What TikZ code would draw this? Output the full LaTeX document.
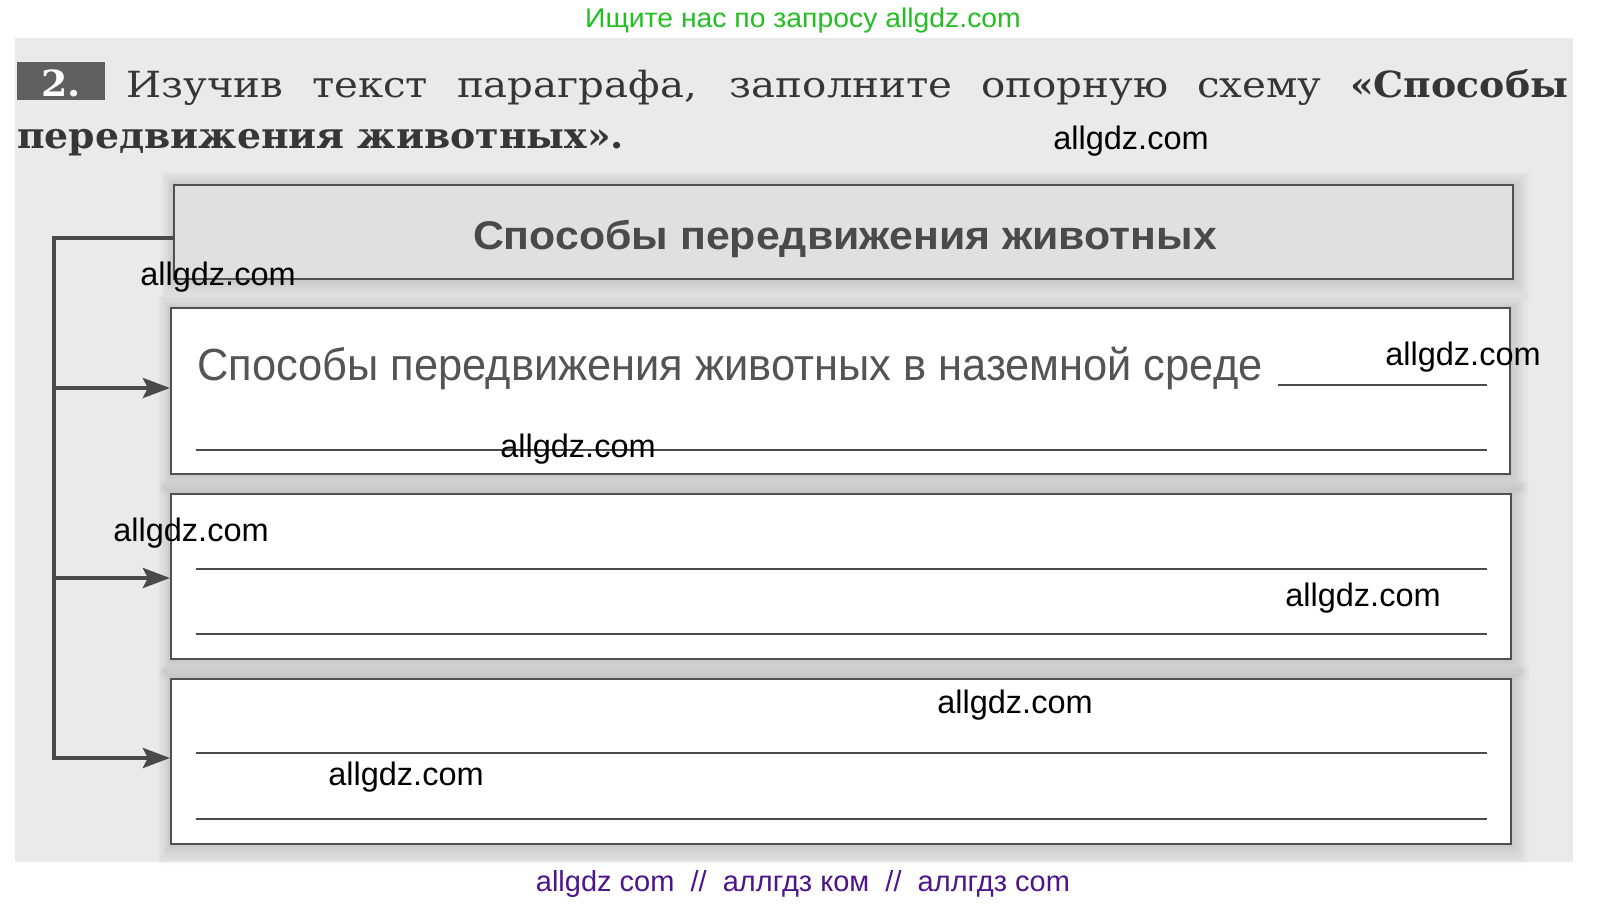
\documentclass[tikz,border=0pt]{standalone}
\usepackage{fontspec}
\setmainfont{DejaVu Serif}
\newfontfamily\treg[FakeStretch=1.12]{DejaVu Serif}
\newfontfamily\tbold[FakeStretch=1.05]{DejaVu Serif}
\newfontfamily\sansf{Liberation Sans}
\newfontfamily\headf[FakeStretch=1.07]{Liberation Sans}
\newfontfamily\boxf[FakeStretch=0.965]{Liberation Sans}
\newfontfamily\greenf[FakeStretch=1.05]{Liberation Sans}
\usetikzlibrary{arrows.meta,calc}
\definecolor{ink}{HTML}{363636}
\definecolor{boxline}{HTML}{505050}
\definecolor{scanbg}{HTML}{EAEAEA}
\definecolor{headfill}{HTML}{E0E0E0}
\definecolor{wmgreen}{RGB}{34,190,34}
\definecolor{wmpurple}{RGB}{78,22,138}
\begin{document}
\begin{tikzpicture}[x=1pt,y=-1pt,
  frame/.style={draw=boxline,line width=2.2pt,rectangle,inner sep=0pt,fill=white},
  headbox/.style={frame,fill=headfill},
  conn/.style={draw=ink!90,line width=4pt},
  arr/.style={conn,-{Stealth[length=27pt,width=20pt,inset=5pt]}},
  fillline/.style={draw=ink!90,line width=2pt},
  wm/.style={font=\sansf\fontsize{32.5}{34}\selectfont,text=black,anchor=base,inner sep=0pt},
  btext/.style={font=\boxf\fontsize{45}{48}\selectfont,text=ink!85,anchor=base west,inner sep=0pt}
]
\useasboundingbox (0,0) rectangle (1607,903);
\fill[white] (0,0) rectangle (1607,903);
\fill[scanbg] (15,38) rectangle (1573,862);

% soft shadows behind boxes
\foreach \xa/\ya/\xb/\yb in {174/185/1513/279,171/308/1510/474,171/494/1511/659,171/679/1511/844}{
  \foreach \k in {1,...,8}{
    \fill[black,opacity=0.014] (\xa-1.6*\k,\ya-1.6*\k) rectangle (\xb+2.2*\k,\yb+2.6*\k);
  }
}

% title
\fill[gray!75!black] (17,62) rectangle (105,100);
\node[anchor=base,inner sep=0pt,text=white,font=\tbold\bfseries\fontsize{36}{38}\selectfont] (num) at (61,96) {2.};
\node[anchor=base west,inner sep=0pt,text=ink,font=\treg\fontsize{36}{40}\selectfont] (t1) at (126,97)
  {\makebox[1442pt][s]{Изучив текст параграфа, заполните опорную схему {\tbold\bfseries «Способы}}};
\node[anchor=base west,inner sep=0pt,text=ink,font=\tbold\bfseries\fontsize{36}{40}\selectfont] (t2) at (17,148)
  {передвижения животных».};

% boxes
\node[headbox,minimum width=1339pt,minimum height=94pt] (h) at (843.5,232) {};
\node[frame,minimum width=1339pt,minimum height=166pt] (b2) at (840.5,391) {};
\node[frame,minimum width=1340pt,minimum height=165pt] (b3) at (841,576.5) {};
\node[frame,minimum width=1340pt,minimum height=165pt] (b4) at (841,761.5) {};

\node[anchor=base,inner sep=0pt,text=ink!90,font=\headf\bfseries\fontsize{40}{44}\selectfont] (ht) at (845,249)
  {Способы передвижения животных};
\node[btext] (b2t) at (197,380) {Способы передвижения животных в наземной среде};

% blank lines
\draw[fillline] (1278,385) -- (1487,385);
\draw[fillline] (196,450) -- (1487,450);
\draw[fillline] (196,569) -- (1487,569);
\draw[fillline] (196,634) -- (1487,634);
\draw[fillline] (196,753) -- (1487,753);
\draw[fillline] (196,819) -- (1487,819);

% connectors
\coordinate (s1) at (54,238);
\coordinate (s2) at (54,388);
\coordinate (s3) at (54,578);
\coordinate (s4) at (54,758);
\draw[conn,line cap=rect] (s1 -| h.west) -- (s1) -- (s4);
\draw[arr] (s2) -- (s2 -| b2.west);
\draw[arr] (s3) -- (s3 -| b3.west);
\draw[arr] (s4) -- (s4 -| b4.west);

% watermarks
\node[anchor=base,inner sep=0pt,text=wmgreen,font=\greenf\fontsize{27}{29}\selectfont] (g) at (803,27) {Ищите нас по запросу allgdz.com};
\node[wm] (w1) at (1131,149) {allgdz.com};
\node[wm] (w2) at (218,285) {allgdz.com};
\node[wm] (w3) at (1463,365) {allgdz.com};
\node[wm] (w4) at (578,457) {allgdz.com};
\node[wm] (w5) at (191,541) {allgdz.com};
\node[wm] (w6) at (1363,606) {allgdz.com};
\node[wm] (w7) at (1015,713) {allgdz.com};
\node[wm] (w8) at (406,785) {allgdz.com};
\node[anchor=base,inner sep=0pt,text=wmpurple,font=\sansf\fontsize{29}{31}\selectfont] (p) at (803,891) {allgdz com\ \ //\ \ аллгдз ком\ \ //\ \ аллгдз com};
\end{tikzpicture}
\end{document}
